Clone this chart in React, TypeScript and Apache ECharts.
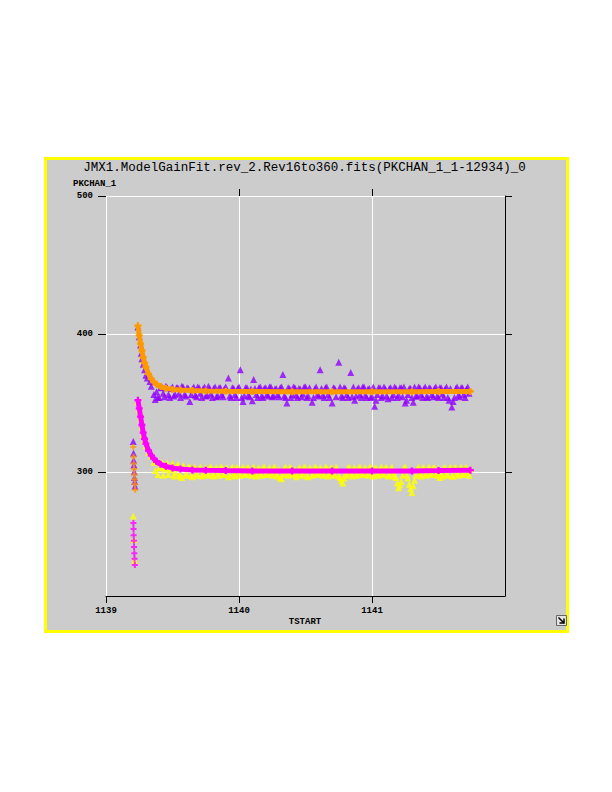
import React, { useEffect, useRef } from "react";
import * as echarts from "echarts";

const TITLE = "JMX1.ModelGainFit.rev_2.Rev16to360.fits(PKCHAN_1_1-12934)_0";
const X_NAME = "TSTART";
const Y_NAME = "PKCHAN_1";
const X_TICKS = [1139, 1140, 1141];
const X_TOP_TICKS = [1140, 1141];
const Y_TICKS = [300, 400, 500];

const purpleRaw: number[][] = [
  [1139.24, 405], [1139.25, 398], [1139.26, 392], [1139.265, 386], [1139.27, 382], [1139.28, 378], [1139.29, 374],
  [1139.3, 370], [1139.31, 368], [1139.33, 365.5], [1139.34, 362], [1139.36, 356], [1139.37, 352.5], [1139.38, 358],
  [1139.4, 354], [1139.41, 361], [1139.43, 357], [1139.45, 362], [1139.47, 356], [1139.49, 360.5], [1139.51, 355],
  [1139.53, 361], [1139.55, 357], [1139.57, 362], [1139.59, 356], [1139.61, 361], [1139.63, 351], [1139.65, 360],
  [1139.67, 355.5], [1139.69, 361.5], [1139.71, 357], [1139.73, 360], [1139.75, 355], [1139.77, 362], [1139.79, 356.5],
  [1139.81, 360.5], [1139.83, 354.5], [1139.85, 361], [1139.87, 356], [1139.89, 360], [1139.92, 368], [1139.93, 355],
  [1139.95, 361], [1139.97, 356], [1139.99, 360.5], [1140.01, 374], [1140.02, 354], [1140.03, 351], [1140.05, 361],
  [1140.07, 355.5], [1140.09, 360], [1140.1, 351.5], [1140.11, 367], [1140.13, 356], [1140.15, 361], [1140.17, 355],
  [1140.19, 360.5], [1140.21, 356], [1140.23, 361.5], [1140.25, 354.5], [1140.27, 360], [1140.29, 356], [1140.31, 361],
  [1140.33, 370.5], [1140.34, 355], [1140.36, 350], [1140.38, 360.5], [1140.4, 356], [1140.42, 361], [1140.44, 354],
  [1140.46, 360], [1140.48, 356.5], [1140.5, 361.5], [1140.52, 355], [1140.55, 350.5], [1140.57, 360], [1140.59, 356],
  [1140.61, 374], [1140.63, 355.5], [1140.65, 361], [1140.67, 356], [1140.7, 350], [1140.72, 360.5], [1140.75, 379.5],
  [1140.77, 355], [1140.79, 361], [1140.81, 356], [1140.84, 372], [1140.85, 354.5], [1140.87, 352], [1140.89, 360],
  [1140.91, 356], [1140.93, 361.5], [1140.95, 355.5], [1140.97, 360], [1140.99, 354], [1141.02, 347.5], [1141.04, 356],
  [1141.06, 361], [1141.08, 355], [1141.1, 360], [1141.12, 353], [1141.14, 361], [1141.16, 356], [1141.18, 360.5],
  [1141.2, 355.5], [1141.22, 361], [1141.25, 350], [1141.27, 356], [1141.29, 360.5], [1141.31, 350.5], [1141.33, 355],
  [1141.35, 361.5], [1141.37, 356], [1141.39, 360], [1141.41, 354.5], [1141.43, 361], [1141.45, 356], [1141.47, 360.5],
  [1141.49, 355], [1141.51, 361], [1141.53, 356.5], [1141.55, 360], [1141.57, 354], [1141.6, 347], [1141.61, 351],
  [1141.63, 360.5], [1141.65, 355.5], [1141.67, 361], [1141.69, 356], [1141.71, 360], [1141.73, 357],
];
const purpleRaw2: number[][] = [
  [1139.39, 354], [1139.42, 361.5], [1139.44, 354.5], [1139.46, 361], [1139.48, 354], [1139.5, 361.5], [1139.52, 356],
  [1139.54, 361], [1139.56, 354], [1139.58, 361.5], [1139.6, 355], [1139.62, 360.5], [1139.64, 356], [1139.66, 361.5],
  [1139.68, 354.5], [1139.7, 361], [1139.72, 354], [1139.74, 361.5], [1139.76, 355.5], [1139.78, 360.5], [1139.8, 354],
  [1139.82, 361.5], [1139.84, 355], [1139.86, 361], [1139.88, 354.5], [1139.9, 361.5], [1139.94, 354], [1139.96, 360.5],
  [1139.98, 354], [1140.0, 361.5], [1140.04, 355], [1140.06, 361], [1140.08, 354.5], [1140.12, 360.5], [1140.14, 354],
  [1140.16, 361.5], [1140.18, 354], [1140.2, 361], [1140.22, 355], [1140.24, 361.5], [1140.26, 355], [1140.28, 360.5],
  [1140.3, 354.5], [1140.32, 361.5], [1140.35, 354], [1140.37, 361], [1140.39, 354], [1140.41, 361.5], [1140.43, 355.5],
  [1140.45, 360.5], [1140.47, 354.5], [1140.49, 361.5], [1140.51, 354], [1140.53, 361], [1140.56, 354], [1140.58, 361.5],
  [1140.6, 355], [1140.62, 360.5], [1140.64, 354], [1140.66, 361.5], [1140.68, 354], [1140.71, 361], [1140.73, 354.5],
  [1140.76, 361.5], [1140.78, 354], [1140.8, 360.5], [1140.82, 354], [1140.86, 361.5], [1140.88, 355], [1140.9, 361],
  [1140.92, 354], [1140.94, 361.5], [1140.96, 354], [1140.98, 360.5], [1141.0, 354.5], [1141.01, 361.5], [1141.03, 352],
  [1141.05, 361], [1141.07, 354], [1141.09, 361.5], [1141.11, 355], [1141.13, 360.5], [1141.15, 354], [1141.17, 361.5],
  [1141.19, 354], [1141.21, 361], [1141.23, 354.5], [1141.24, 361.5], [1141.26, 352], [1141.28, 360.5], [1141.3, 354],
  [1141.32, 361.5], [1141.34, 355], [1141.36, 361], [1141.38, 354], [1141.4, 361.5], [1141.42, 354], [1141.44, 360.5],
  [1141.46, 354.5], [1141.48, 361.5], [1141.5, 354], [1141.52, 361], [1141.54, 354], [1141.56, 361.5], [1141.58, 352],
  [1141.59, 360.5], [1141.62, 354], [1141.64, 361.5], [1141.66, 354.5], [1141.68, 361], [1141.7, 354], [1141.72, 361.5],
];
const purpleEarly: number[][] = [
  [1139.205, 322], [1139.207, 313.5], [1139.208, 308.5], [1139.21, 305], [1139.212, 300], [1139.214, 296],
  [1139.216, 293], [1139.218, 289.5],
];
const orangeFit: number[][] = [
  [1139.24, 406], [1139.25, 399], [1139.26, 393], [1139.27, 388], [1139.28, 383], [1139.29, 379], [1139.3, 376],
  [1139.32, 371], [1139.34, 367.5], [1139.36, 365], [1139.38, 363.5], [1139.41, 361.8], [1139.45, 360.6],
  [1139.5, 359.8], [1139.56, 359.3], [1139.65, 358.9], [1139.75, 358.6], [1139.9, 358.4], [1140.1, 358.2],
  [1140.4, 358.1], [1140.7, 358.0], [1141.0, 358.0], [1141.3, 358.1], [1141.5, 358.2], [1141.74, 358.3],
];
const orangeEarly: number[][] = [
  [1139.205, 318], [1139.207, 311], [1139.209, 306], [1139.211, 302], [1139.213, 298], [1139.215, 294.5],
  [1139.217, 291], [1139.219, 287],
];
const yellowRaw: number[][] = [
  [1139.24, 351], [1139.25, 345], [1139.26, 339], [1139.27, 333], [1139.28, 327], [1139.29, 323], [1139.3, 319],
  [1139.32, 314], [1139.34, 311.5], [1139.36, 307], [1139.37, 301], [1139.38, 307.5], [1139.4, 303], [1139.42, 307],
  [1139.44, 302], [1139.46, 306.5], [1139.48, 301.5], [1139.5, 306], [1139.52, 299.5], [1139.54, 305.5], [1139.56, 297],
  [1139.58, 304.5], [1139.6, 298.5], [1139.62, 303.5], [1139.64, 297.5], [1139.66, 303], [1139.68, 299], [1139.7, 302.5],
  [1139.72, 297], [1139.74, 302], [1139.76, 299], [1139.78, 303], [1139.8, 298.5], [1139.82, 302], [1139.84, 299],
  [1139.86, 303], [1139.88, 298], [1139.9, 302.5], [1139.92, 296.5], [1139.94, 302], [1139.96, 298.5], [1139.98, 303],
  [1140.0, 299], [1140.02, 302], [1140.04, 298], [1140.06, 303], [1140.08, 299], [1140.1, 302.5], [1140.12, 298.5],
  [1140.14, 302], [1140.16, 299], [1140.18, 303], [1140.2, 298], [1140.22, 302], [1140.24, 299], [1140.26, 303],
  [1140.28, 298.5], [1140.3, 302], [1140.32, 295], [1140.34, 302.5], [1140.36, 298.5], [1140.38, 303], [1140.4, 299],
  [1140.42, 302], [1140.44, 298], [1140.46, 302.5], [1140.48, 299], [1140.5, 303], [1140.52, 296.5], [1140.54, 302],
  [1140.56, 298.5], [1140.58, 303], [1140.6, 299], [1140.62, 302], [1140.64, 298.5], [1140.66, 303], [1140.68, 299],
  [1140.7, 302.5], [1140.72, 298], [1140.74, 302], [1140.76, 296], [1140.78, 292], [1140.8, 298.5], [1140.82, 303],
  [1140.84, 299], [1140.86, 302], [1140.88, 298.5], [1140.9, 303], [1140.92, 299], [1140.94, 302], [1140.96, 298],
  [1140.98, 303], [1141.0, 299], [1141.02, 302.5], [1141.04, 298.5], [1141.06, 302], [1141.08, 299], [1141.1, 303],
  [1141.12, 297], [1141.14, 302], [1141.16, 299], [1141.18, 296], [1141.2, 288.5], [1141.22, 293], [1141.24, 303],
  [1141.26, 298], [1141.28, 291], [1141.3, 285], [1141.32, 294], [1141.34, 302], [1141.36, 299], [1141.38, 303],
  [1141.4, 298.5], [1141.42, 302], [1141.44, 299], [1141.46, 303], [1141.48, 298], [1141.5, 302.5], [1141.52, 299],
  [1141.54, 303], [1141.56, 298.5], [1141.58, 302], [1141.6, 297], [1141.62, 303], [1141.64, 299], [1141.66, 302],
  [1141.68, 298.5], [1141.7, 303], [1141.72, 299.5], [1141.74, 302],
];
const yellowRaw2: number[][] = [
  [1139.39, 298], [1139.41, 303.5], [1139.43, 297.5], [1139.45, 303], [1139.47, 298], [1139.49, 303.5], [1139.51, 297],
  [1139.53, 303], [1139.55, 297.5], [1139.57, 296], [1139.59, 303], [1139.61, 297.5], [1139.63, 303.5], [1139.65, 296.5],
  [1139.67, 303], [1139.69, 297.5], [1139.71, 303.5], [1139.73, 298], [1139.75, 303], [1139.77, 297.5], [1139.79, 303.5],
  [1139.81, 297], [1139.83, 303], [1139.85, 297.5], [1139.87, 303.5], [1139.89, 298], [1139.91, 303], [1139.93, 297.5],
  [1139.95, 303.5], [1139.97, 297], [1139.99, 303], [1140.01, 297.5], [1140.03, 303.5], [1140.05, 298], [1140.07, 303],
  [1140.09, 297.5], [1140.11, 303.5], [1140.13, 297], [1140.15, 303], [1140.17, 297.5], [1140.19, 303.5], [1140.21, 298],
  [1140.23, 303], [1140.25, 297.5], [1140.27, 303.5], [1140.29, 297], [1140.31, 296], [1140.33, 298], [1140.35, 303.5],
  [1140.37, 297.5], [1140.39, 303], [1140.41, 298], [1140.43, 296.5], [1140.45, 303], [1140.47, 297.5], [1140.49, 303.5],
  [1140.51, 297], [1140.53, 303], [1140.55, 297.5], [1140.57, 303.5], [1140.59, 298], [1140.61, 303], [1140.63, 297.5],
  [1140.65, 303.5], [1140.67, 297], [1140.69, 303], [1140.71, 297.5], [1140.73, 303.5], [1140.75, 297], [1140.77, 294],
  [1140.79, 295.5], [1140.81, 297.5], [1140.83, 303.5], [1140.85, 297], [1140.87, 303], [1140.89, 297.5], [1140.91, 303.5],
  [1140.93, 298], [1140.95, 303], [1140.97, 297.5], [1140.99, 303.5], [1141.01, 297], [1141.03, 303], [1141.05, 297.5],
  [1141.07, 303.5], [1141.09, 298], [1141.11, 303], [1141.13, 297.5], [1141.15, 303.5], [1141.17, 297], [1141.19, 292],
  [1141.21, 290.5], [1141.23, 297.5], [1141.25, 303.5], [1141.27, 295.5], [1141.29, 288], [1141.31, 290], [1141.33, 297.5],
  [1141.35, 303.5], [1141.37, 297], [1141.39, 303], [1141.41, 297.5], [1141.43, 303.5], [1141.45, 298], [1141.47, 303],
  [1141.49, 297.5], [1141.51, 296], [1141.53, 297], [1141.55, 303], [1141.57, 297.5], [1141.59, 303.5], [1141.61, 297],
  [1141.63, 303], [1141.65, 297.5], [1141.67, 303.5], [1141.69, 298], [1141.71, 303], [1141.73, 297.5],
];
const yellowEarly: number[][] = [
  [1139.205, 268], [1139.21, 251], [1139.215, 236],
];
const magentaFit: number[][] = [
  [1139.24, 352], [1139.25, 346], [1139.26, 340], [1139.27, 334], [1139.28, 328.5], [1139.29, 324], [1139.3, 320.5],
  [1139.32, 315.5], [1139.34, 312], [1139.36, 309.5], [1139.38, 307.5], [1139.41, 305.5], [1139.45, 304],
  [1139.5, 302.8], [1139.56, 302], [1139.65, 301.4], [1139.75, 301.1], [1139.9, 300.9], [1140.1, 300.7],
  [1140.4, 300.6], [1140.7, 300.6], [1141.0, 300.6], [1141.3, 300.7], [1141.5, 300.9], [1141.74, 301.2],
];
const magentaEarly: number[][] = [
  [1139.206, 263], [1139.207, 258.5], [1139.208, 254], [1139.21, 250], [1139.211, 245.5], [1139.213, 241],
  [1139.215, 237], [1139.217, 232.5],
];

const PURPLE = "#9000ff";
const ORANGE = "#ff9900";
const YELLOW = "#ffff00";
const MAGENTA = "#ff00ff";
const PLUS = "path://M2,0H4V2H6V4H4V6H2V4H0V2H2Z";

const axisFont = {
  fontFamily: "Liberation Mono",
  fontSize: 9,
  fontWeight: "bold" as const,
  color: "#000",
};

export default function App() {
  const ref = useRef<HTMLDivElement>(null);
  useEffect(() => {
    if (!ref.current) return;
    const chart = echarts.init(ref.current, null, { renderer: "svg" });
    chart.setOption({
      animation: false,
      grid: { left: 106, top: 196, width: 399, height: 400, containLabel: false },
      graphic: [
        {
          type: "rect",
          z: -100,
          shape: { x: 45.5, y: 158.5, width: 522, height: 473 },
          style: { fill: "#cccccc", stroke: YELLOW, lineWidth: 3 },
        },
        {
          type: "text",
          x: 304.5,
          y: 168,
          style: {
            text: TITLE,
            fontFamily: "Liberation Mono",
            fontSize: 12.5,
            fill: "#000",
            textAlign: "center",
            textVerticalAlign: "middle",
          },
        },
        {
          type: "text",
          x: 73,
          y: 184,
          style: { text: Y_NAME, ...axisFont, fill: "#000", textAlign: "left", textVerticalAlign: "middle" },
        },
        {
          type: "text",
          x: 305,
          y: 622,
          style: { text: X_NAME, ...axisFont, fill: "#000", textAlign: "center", textVerticalAlign: "middle" },
        },
        {
          type: "rect",
          shape: { x: 556.5, y: 615.5, width: 10, height: 10 },
          style: { fill: "#e4e4e4", stroke: "#666", lineWidth: 1 },
        },
        {
          type: "line",
          shape: { x1: 558.5, y1: 617.5, x2: 564, y2: 623 },
          style: { stroke: "#000", lineWidth: 1.5 },
        },
        {
          type: "polyline",
          shape: { points: [[564, 618.5], [564, 623], [559.5, 623]] },
          style: { stroke: "#000", lineWidth: 1.5, fill: null },
        },
      ],
      xAxis: [
        {
          type: "value",
          position: "bottom",
          min: 1139,
          max: 1142,
          axisLine: { show: true, onZero: false, lineStyle: { color: "#000", width: 1 } },
          axisTick: { show: true, length: 7, customValues: X_TICKS, lineStyle: { color: "#000" } },
          axisLabel: { customValues: X_TICKS, margin: 10, formatter: (v: number) => String(v), ...axisFont },
          splitLine: { show: true, lineStyle: { color: "#fff", width: 1 } },
        },
        {
          type: "value",
          position: "top",
          min: 1139,
          max: 1142,
          axisLine: { show: false },
          axisTick: { show: true, length: 7, customValues: X_TOP_TICKS, lineStyle: { color: "#000" } },
          axisLabel: { show: false },
          splitLine: { show: false },
        },
      ],
      yAxis: [
        {
          type: "value",
          position: "left",
          min: 210,
          max: 500,
          axisLine: { show: true, onZero: false, lineStyle: { color: "#fff", width: 1 } },
          axisTick: { show: true, length: 8, customValues: Y_TICKS, lineStyle: { color: "#000" } },
          axisLabel: { customValues: Y_TICKS, margin: 13, formatter: (v: number) => String(v), ...axisFont },
          splitLine: { show: true, lineStyle: { color: "#fff", width: 1 } },
        },
        {
          type: "value",
          position: "right",
          min: 210,
          max: 500,
          axisLine: { show: true, onZero: false, lineStyle: { color: "#000", width: 1 } },
          axisTick: { show: true, length: 7, customValues: Y_TICKS, lineStyle: { color: "#000" } },
          axisLabel: { show: false },
          splitLine: { show: false },
        },
      ],
      series: [
        {
          type: "scatter",
          data: [...purpleEarly, ...purpleRaw, ...purpleRaw2],
          symbol: "triangle",
          symbolSize: 7,
          itemStyle: { color: PURPLE },
        },
        {
          type: "scatter",
          data: [...yellowEarly, ...yellowRaw, ...yellowRaw2],
          symbol: "triangle",
          symbolSize: 7,
          itemStyle: { color: YELLOW },
        },
        {
          type: "line",
          data: orangeFit,
          symbol: PLUS,
          symbolSize: 7,
          showAllSymbol: true,
          lineStyle: { color: ORANGE, width: 5 },
          itemStyle: { color: ORANGE },
        },
        {
          type: "scatter",
          data: orangeEarly,
          symbol: PLUS,
          symbolSize: 6,
          itemStyle: { color: ORANGE },
        },
        {
          type: "line",
          data: magentaFit,
          symbol: PLUS,
          symbolSize: 7,
          showAllSymbol: true,
          lineStyle: { color: MAGENTA, width: 5 },
          itemStyle: { color: MAGENTA },
        },
        {
          type: "scatter",
          data: magentaEarly,
          symbol: PLUS,
          symbolSize: 6,
          itemStyle: { color: MAGENTA },
        },
      ],
    });
    return () => chart.dispose();
  }, []);
  return (
    <div
      ref={ref}
      style={{ position: "absolute", left: 0, top: 0, width: 612, height: 792, background: "#fff" }}
    />
  );
}
